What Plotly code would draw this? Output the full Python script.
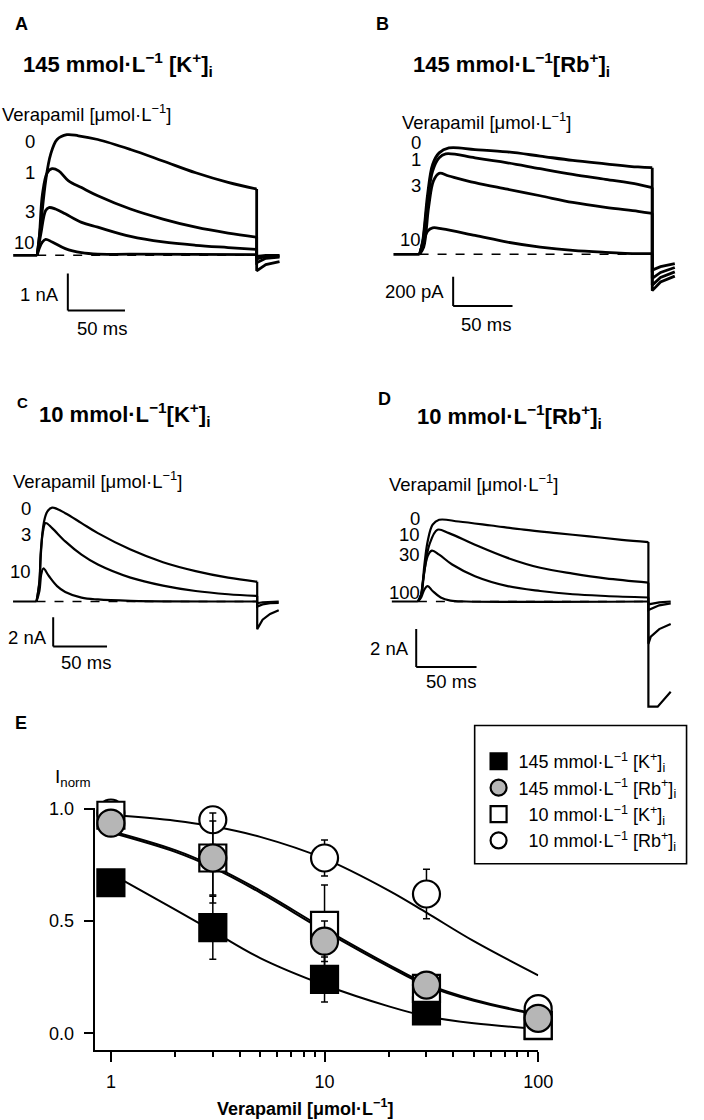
import plotly.graph_objects as go

W, H = 704, 1120
FONT = "Liberation Sans, Arial, sans-serif"

# ---------------- DATA ----------------
# Panel A: 145 mM [K+]i, current in nA, time in ms (pulse start = 0)
A_pulse_end = 192
A_pre_t = [-21, 0]
A_t0 = [0, 3.2, 7.4, 11.7, 17.4, 26, 36, 53, 81.6, 110, 138.7, 167, 192]
A_i0 = [0, 0.85, 2.01, 2.72, 3.13, 3.26, 3.23, 3.13, 2.86, 2.55, 2.23, 1.97, 1.79]
A_t1 = [0, 2.0, 4.6, 8.8, 13.1, 18.8, 27.4, 38.8, 53, 81.6, 110, 138.7, 167, 192]
A_i1 = [0, 0.55, 1.65, 2.23, 2.34, 2.28, 2.01, 1.83, 1.61, 1.25, 0.98, 0.76, 0.60, 0.49]
A_t3 = [0, 3.2, 7.4, 10.3, 16, 24.6, 38.8, 53, 81.6, 110, 138.7, 167, 192]
A_i3 = [0, 0.58, 1.21, 1.29, 1.25, 1.12, 0.89, 0.76, 0.51, 0.36, 0.27, 0.21, 0.16]
A_t10 = [0, 1.7, 4.6, 7.4, 13.1, 24.6, 38.8, 53, 81.6, 192]
A_i10 = [0, 0.18, 0.36, 0.43, 0.36, 0.18, 0.07, 0.03, 0.03, 0.02]
A_tail_t = [192, 200, 212]
A_tail0 = [-0.42, -0.25, -0.17]
A_tail1 = [-0.20, -0.08, -0.05]
A_tail3 = [-0.10, -0.03, -0.02]
A_tail10 = [-0.03, 0.0, 0.0]
A_labels = ["0", "1", "3", "10"]

# Panel B: 145 mM [Rb+]i, current in pA
B_pulse_end = 196
B_pre_t = [-22, 0]
B_t0 = [0, 2.7, 6.8, 11, 16.5, 24.7, 46.7, 74, 101.6, 129, 156.6, 184, 196]
B_i0 = [0, 95, 414, 618, 698, 732, 721, 705, 676, 646, 623, 601, 596]
B_t1 = [0, 2.7, 6.8, 11, 16.5, 22, 46.7, 74, 101.6, 129, 156.6, 184, 196]
B_i1 = [0, 84, 369, 573, 664, 691, 664, 630, 589, 550, 516, 482, 459]
B_t3 = [0, 3.5, 7.6, 11.7, 16.5, 24.7, 46.7, 74, 101.6, 129, 156.6, 184, 196]
B_i3 = [0, 50, 323, 505, 557, 539, 493, 448, 403, 357, 323, 296, 282]
B_t10 = [0, 3.5, 6.8, 11, 19.2, 46.7, 74, 101.6, 129, 156.6, 184, 196]
B_i10 = [0, 95, 159, 182, 175, 130, 84, 50, 27, 14, 5, 5]
B_tail_t = [196, 203, 215]
B_tail0 = [-250, -190, -150]
B_tail1 = [-212, -160, -121]
B_tail3 = [-166, -125, -91]
B_tail10 = [-109, -85, -64]
B_labels = ["0", "1", "3", "10"]

# Panel C: 10 mM [K+]i, current in nA
C_pulse_end = 205
C_pre_t = [-21.8, 0]
C_t0 = [0, 2.7, 4, 7, 10, 14.5, 26.7, 41.8, 57, 87.3, 117.5, 147.8, 178, 205]
C_i0 = [0, 1.4, 3.45, 5.5, 6.18, 6.45, 6.07, 5.39, 4.7, 3.57, 2.7, 2.09, 1.64, 1.36]
C_t3 = [0, 2.7, 4, 6, 8.5, 14.5, 26.7, 41.8, 57, 87.3, 117.5, 147.8, 178, 205]
C_i3 = [0, 1.3, 3.2, 4.8, 5.39, 5.04, 4.13, 3.22, 2.54, 1.64, 1.09, 0.72, 0.5, 0.38]
C_t10 = [0, 2.7, 4.5, 6.4, 11.5, 19.1, 26.7, 41.8, 57, 87.3, 205]
C_i10 = [0, 0.72, 1.9, 2.27, 1.75, 1.06, 0.66, 0.27, 0.14, 0.05, 0.0]
C_tail_t = [205, 210, 217, 225]
C_tail0 = [-1.9, -1.25, -0.85, -0.6]
C_tail3 = [-0.35, -0.2, -0.12, -0.1]
C_tail10 = [-0.12, -0.05, -0.02, 0.0]
C_labels = ["0", "3", "10"]

# Panel D: 10 mM [Rb+]i, current in nA
D_pulse_end = 191
D_pre_t = [-21.6, 0]
D_t0 = [0, 2.7, 5.4, 8.1, 12.2, 17.6, 33.8, 60.8, 87.8, 114.8, 141.9, 168.9, 191]
D_i0 = [0, 0.38, 1.94, 3.16, 4.03, 4.29, 4.2, 3.99, 3.77, 3.59, 3.42, 3.24, 3.12]
D_t10 = [0, 2.7, 5.4, 9.5, 16.2, 25.7, 47.3, 74.3, 101.4, 128.4, 155.4, 191]
D_i10 = [0, 0.35, 1.59, 2.98, 3.77, 3.59, 2.98, 2.29, 1.77, 1.46, 1.21, 0.99]
D_t30 = [0, 2.7, 4, 8.1, 11.6, 17.6, 28.4, 47.3, 74.3, 101.4, 128.4, 155.4, 191]
D_i30 = [0, 0.35, 1.0, 2.38, 2.67, 2.46, 1.94, 1.33, 0.81, 0.55, 0.38, 0.29, 0.21]
D_t100 = [0, 2.7, 5.4, 8.1, 12.2, 18.9, 27, 40, 191]
D_i100 = [0, 0.21, 0.64, 0.81, 0.55, 0.21, 0.05, 0.0, 0.0]
D_tail_t0 = [191, 198.7, 209.5]
D_tail0 = [-5.52, -5.52, -4.74]
D_tail_t10 = [191, 193, 200, 209.5]
D_tail10 = [-2.22, -1.85, -1.45, -1.18]
D_tail_t30 = [191, 200, 209.5]
D_tail30 = [-0.45, -0.2, -0.1]
D_tail100 = [-0.15, -0.05, 0.0]
D_labels = ["0", "10", "30", "100"]

# Panel E: concentration-response (I_norm)
conc = [1, 3, 10, 30, 100]
K145 = [0.67, 0.47, 0.24, 0.10, 0.035]
K145_err = [0.0, 0.14, 0.10, 0.02, 0.01]
Rb145 = [0.935, 0.78, 0.41, 0.215, 0.067]
Rb145_err = [0.02, 0.20, 0.09, 0.03, 0.02]
K10 = [0.97, 0.78, 0.48, 0.20, 0.036]
K10_err = [0.02, 0.165, 0.18, 0.03, 0.02]
Rb10 = [0.98, 0.95, 0.78, 0.62, 0.11]
Rb10_err = [0.03, 0.03, 0.08, 0.11, 0.02]

fit_x = [1, 2, 3, 5, 10, 20, 30, 50, 100]
fit_K145 = [0.71, 0.55, 0.455, 0.335, 0.215, 0.12, 0.076, 0.045, 0.02]
fit_Rb145 = [0.90, 0.815, 0.745, 0.635, 0.465, 0.305, 0.22, 0.15, 0.085]
fit_K10 = [0.893, 0.807, 0.737, 0.626, 0.456, 0.297, 0.213, 0.145, 0.082]
fit_Rb10 = [0.972, 0.946, 0.921, 0.874, 0.777, 0.635, 0.537, 0.41, 0.258]

legend_names = ["145 mmol·L<sup>−1</sup> [K<sup>+</sup>]<sub>i</sub>",
                "145 mmol·L<sup>−1</sup> [Rb<sup>+</sup>]<sub>i</sub>",
                "\u00a0\u00a010 mmol·L<sup>−1</sup> [K<sup>+</sup>]<sub>i</sub>",
                "\u00a0\u00a010 mmol·L<sup>−1</sup> [Rb<sup>+</sup>]<sub>i</sub>"]

# ---------------- FIGURE ----------------
fig = go.Figure()


def ax_names(n):
    s = "" if n == 1 else str(n)
    return "xaxis" + s, "yaxis" + s, "x" + s, "y" + s


def setup_panel(n, box, t0px, ms_px, base_px, unit_px):
    x0, y0, x1, y1 = box
    xa, ya, xr, yr = ax_names(n)
    fig.update_layout({
        xa: dict(domain=[x0 / W, x1 / W], range=[(x0 - t0px) / ms_px, (x1 - t0px) / ms_px],
                 visible=False, anchor=yr, fixedrange=True),
        ya: dict(domain=[1 - y1 / H, 1 - y0 / H], range=[(base_px - y1) / unit_px, (base_px - y0) / unit_px],
                 visible=False, anchor=xr, fixedrange=True),
    })
    return xr, yr


def line(xr, yr, x, y, w, shape="linear", dash=None):
    fig.add_trace(go.Scatter(x=x, y=y, xaxis=xr, yaxis=yr, mode="lines",
                             line=dict(color="black", width=w, shape=shape, dash=dash,
                                       smoothing=1.0 if shape == "spline" else None),
                             showlegend=False, hoverinfo="skip"))


def draw_panel(n, box, t0px, ms_px, base_px, unit_px, pre_t, pulse_end, traces, w, sb):
    xr, yr = setup_panel(n, box, t0px, ms_px, base_px, unit_px)
    line(xr, yr, [0, pulse_end], [0, 0], 1.6, dash="dash")
    line(xr, yr, pre_t, [0, 0], w)
    for (tt, ii, tail_t, tail_i) in traces:
        line(xr, yr, tt, ii, w, shape="spline")
        line(xr, yr, [tt[-1]] + tail_t, [ii[-1]] + tail_i, w)
    # scale bar
    st, si, dv = sb
    fig.add_shape(type="line", xref=xr, yref=yr, x0=st, x1=st, y0=si, y1=si + dv,
                  line=dict(color="black", width=2))
    fig.add_shape(type="line", xref=xr, yref=yr, x0=st, x1=st + 50, y0=si, y1=si,
                  line=dict(color="black", width=2))


draw_panel(1, (0, 0, 352, 355), 38.0, 1.168, 248.3, 37.3, A_pre_t, A_pulse_end,
           [(A_t0, A_i0, A_tail_t, A_tail0), (A_t1, A_i1, A_tail_t, A_tail1),
            (A_t3, A_i3, A_tail_t, A_tail3), (A_t10, A_i10, A_tail_t, A_tail10)],
           2.8, (26.8, -1.49, 1))
draw_panel(2, (352, 0, 704, 355), 428.7, 1.213, 247.3, 0.1465, B_pre_t, B_pulse_end,
           [(B_t0, B_i0, B_tail_t, B_tail0), (B_t1, B_i1, B_tail_t, B_tail1),
            (B_t3, B_i3, B_tail_t, B_tail3), (B_t10, B_i10, B_tail_t, B_tail10)],
           2.8, (28.3, -355, 200))
draw_panel(3, (0, 355, 352, 710), 37.3, 1.1, 597.3, 14.67, C_pre_t, C_pulse_end,
           [(C_t0, C_i0, C_tail_t, C_tail0), (C_t3, C_i3, C_tail_t, C_tail3),
            (C_t10, C_i10, C_tail_t, C_tail10)],
           2.2, (15.5, -3.09, 2))
draw_panel(4, (352, 355, 704, 715), 427.0, 1.233, 597.3, 19.2, D_pre_t, D_pulse_end,
           [(D_t0, D_i0, D_tail_t0, D_tail0), (D_t10, D_i10, D_tail_t10, D_tail10),
            (D_t30, D_i30, D_tail_t30, D_tail30), (D_t100, D_i100, D_tail_t30, D_tail100)],
           2.2, (-1.4, -3.44, 2))

# ---- Panel E ----
ex0, ex1 = 96.7, 550.0
ey0, ey1 = 805.0, 1049.0
x_one_px, dec_px = 113.3, 218.3
y_zero_px, unit_e = 1032.7, 226.7
fig.update_layout(
    xaxis5=dict(domain=[ex0 / W, ex1 / W], type="log",
                range=[(ex0 - x_one_px) / dec_px, (ex1 - x_one_px) / dec_px],
                anchor="y5", showline=True, linecolor="black", linewidth=2,
                ticks="outside", ticklen=10, tickwidth=2, tickcolor="black",
                tickvals=[1, 10, 100], ticktext=["1", "10", "100"], ticklabelstandoff=5,
                minor=dict(tickvals=[2, 3, 4, 5, 6, 7, 8, 9, 20, 30, 40, 50, 60, 70, 80, 90],
                           ticks="outside", ticklen=5, tickwidth=1.5, tickcolor="black"),
                showgrid=False, zeroline=False, fixedrange=True,
                tickfont=dict(family=FONT, size=18, color="black")),
    yaxis5=dict(domain=[1 - ey1 / H, 1 - ey0 / H],
                range=[(y_zero_px - ey1) / unit_e, (y_zero_px - ey0) / unit_e],
                anchor="x5", showline=True, linecolor="black", linewidth=2,
                ticks="outside", ticklen=9, tickwidth=2, tickcolor="black",
                tickvals=[0, 0.5, 1.0], ticktext=["0.0", "0.5", "1.0"], ticklabelstandoff=6,
                showgrid=False, zeroline=False, fixedrange=True,
                tickfont=dict(family=FONT, size=18, color="black")),
)

for fy in [fit_K145, fit_Rb145, fit_K10, fit_Rb10]:
    fig.add_trace(go.Scatter(x=fit_x, y=fy, xaxis="x5", yaxis="y5", mode="lines",
                             line=dict(color="black", width=2, shape="spline", smoothing=1.0),
                             showlegend=False, hoverinfo="skip", cliponaxis=False))

GREY = "#b6b6b6"
series = [
    (K145, K145_err, "square", "black"),
    (Rb10, Rb10_err, "circle", "white"),
    (K10, K10_err, "square", "white"),
    (Rb145, Rb145_err, "circle", GREY),
]
for vals, err, sym, fill in series:
    fig.add_trace(go.Scatter(x=conc, y=vals, xaxis="x5", yaxis="y5", mode="markers",
                             marker=dict(symbol=sym, size=27, color=fill,
                                         line=dict(color="black", width=2.2)),
                             error_y=dict(type="data", array=err, color="black",
                                          thickness=1.5, width=3.5),
                             showlegend=False, hoverinfo="skip", cliponaxis=False))

legend_style = [("square", "black"), ("circle", GREY), ("square", "white"), ("circle", "white")]
for k, (sym, fill) in enumerate(legend_style):
    fig.add_trace(go.Scatter(x=[None], y=[None], xaxis="x5", yaxis="y5", mode="markers",
                             name=legend_names[k], legendrank=k + 1,
                             marker=dict(symbol=sym, size=18, color=fill,
                                         line=dict(color="black", width=2.2)),
                             showlegend=True, hoverinfo="skip"))

# legend box
fig.add_shape(type="rect", xref="paper", yref="paper", x0=485 / W, x1=701.5 / W,
              y0=1 - 861.7 / H, y1=1 - 722.3 / H, line=dict(color="black", width=1.6))

# ---------------- TEXT ----------------
def px(x, y):
    return x / W, 1 - y / H


anns = []


def ann(text, x, y, size, xanchor="left", bold=False):
    xx, yy = px(x, y)
    anns.append(dict(text=("<b>%s</b>" % text) if bold else text, x=xx, y=yy,
                     xref="paper", yref="paper", xanchor=xanchor, yanchor="middle",
                     showarrow=False, font=dict(family=FONT, size=size, color="black")))


VERA = "Verapamil [μmol·L<sup>−1</sup>]"
# A
ann("A", 13, 15, 18, bold=True)
ann("145 mmol·L<sup>−1</sup> [K<sup>+</sup>]<sub>i</sub>", 21, 56, 22, bold=True)
ann(VERA, 0, 105, 18.5)
for lab, yy in zip(A_labels, [133.3, 165, 204, 235]):
    ann(lab, 38, yy, 18.5, xanchor="right")
ann("1 nA", 62, 288.3, 18.5, xanchor="right")
ann("50 ms", 76.7, 321.7, 18.5)
# B
ann("B", 382, 15, 18, bold=True)
ann("145 mmol·L<sup>−1</sup>[Rb<sup>+</sup>]<sub>i</sub>", 420, 56, 22, bold=True)
ann(VERA, 409, 113, 18.5)
for lab, yy in zip(B_labels, [135, 152, 178, 232]):
    ann(lab, 432, yy, 18.5, xanchor="right")
ann("200 pA", 455.3, 285, 18.5, xanchor="right")
ann("50 ms", 468.7, 318.3, 18.5)
# C
ann("C", 15, 396.7, 15, bold=True)
ann("10 mmol·L<sup>−1</sup>[K<sup>+</sup>]<sub>i</sub>", 38.3, 409, 22, bold=True)
ann(VERA, 11.7, 475, 18.5)
for lab, yy in zip(C_labels, [503.3, 530, 567.3]):
    ann(lab, 34, yy, 18.5, xanchor="right")
ann("2 nA", 50, 633.3, 18.5, xanchor="right")
ann("50 ms", 60, 658.3, 18.5)
# D
ann("D", 383.7, 393.3, 18, bold=True)
ann("10 mmol·L<sup>−1</sup>[Rb<sup>+</sup>]<sub>i</sub>", 423.7, 411, 22, bold=True)
ann(VERA, 395.3, 478.3, 18.5)
for lab, yy in zip(D_labels, [513.3, 530, 550, 588.3]):
    ann(lab, 431, yy, 18.5, xanchor="right")
ann("2 nA", 420.3, 645, 18.5, xanchor="right")
ann("50 ms", 433.7, 678.3, 18.5)
# E
ann("E", 13, 720, 18, bold=True)
ann("I<sub>norm</sub>", 54, 775, 19)
ann("Verapamil [μmol·L<sup>−1</sup>]", 311.7, 1107, 18, xanchor="center", bold=True)

fig.update_layout(
    width=W, height=H, margin=dict(l=0, r=0, t=0, b=0),
    paper_bgcolor="white", plot_bgcolor="rgba(0,0,0,0)",
    font=dict(family=FONT, color="black"),
    annotations=anns,
    showlegend=True,
    legend=dict(x=489 / W, y=1 - 740 / H, xanchor="left", yanchor="top",
                bgcolor="rgba(0,0,0,0)", borderwidth=0,
                font=dict(family=FONT, size=18, color="black"),
                itemsizing="trace", tracegroupgap=0),
)

fig.write_html("out.html", config={"displayModeBar": False},
               post_script="document.body.style.margin='0';document.body.style.overflow='hidden';")
